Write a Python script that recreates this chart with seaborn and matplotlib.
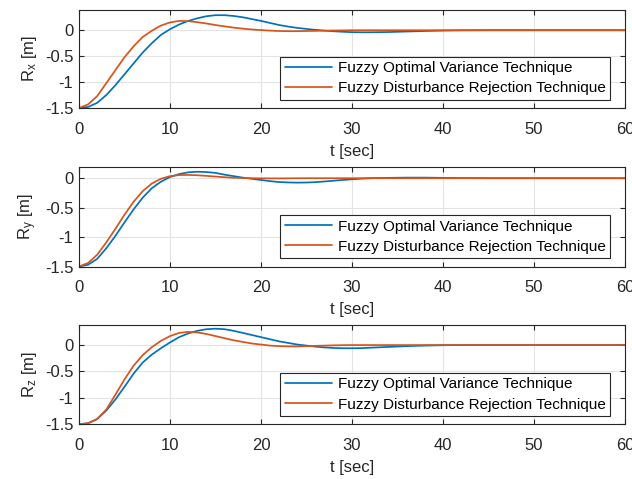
import matplotlib
matplotlib.use("Agg")
import matplotlib.pyplot as plt
import seaborn as sns
import pandas as pd

t = list(range(0, 33)) + [34, 36, 38, 40, 42, 45, 50, 55, 60]

rx_fov = [-1.5, -1.48, -1.40, -1.25, -1.06, -0.85, -0.64, -0.43, -0.25, -0.09,
          0.02, 0.11, 0.18, 0.23, 0.27, 0.29, 0.29, 0.275, 0.25, 0.215,
          0.18, 0.14, 0.10, 0.07, 0.045, 0.025, 0.007, -0.008, -0.02, -0.03,
          -0.037, -0.04, -0.04, -0.035, -0.025, -0.015, -0.007, -0.002, 0, 0, 0, 0]
rx_fdr = [-1.5, -1.43, -1.27, -1.02, -0.77, -0.52, -0.31, -0.13, -0.01, 0.09,
          0.15, 0.18, 0.175, 0.155, 0.13, 0.10, 0.075, 0.05, 0.03, 0.015,
          0.003, -0.008, -0.015, -0.018, -0.018, -0.015, -0.012, -0.008, -0.005, -0.003,
          -0.001, 0, 0, 0, 0, 0, 0, 0, 0, 0, 0, 0]

ry_fov = [-1.5, -1.47, -1.37, -1.19, -0.98, -0.75, -0.53, -0.33, -0.17, -0.06,
          0.02, 0.07, 0.10, 0.11, 0.105, 0.09, 0.06, 0.035, 0.01, -0.01,
          -0.03, -0.05, -0.065, -0.072, -0.075, -0.073, -0.067, -0.055, -0.042, -0.03,
          -0.018, -0.008, 0.0, 0.006, 0.01, 0.01, 0.006, 0.002, 0, 0, 0, 0]
ry_fdr = [-1.5, -1.44, -1.30, -1.09, -0.86, -0.62, -0.40, -0.22, -0.09, -0.01,
          0.035, 0.053, 0.056, 0.05, 0.04, 0.028, 0.017, 0.008, 0.002, 0,
          -0.002, -0.003, -0.003, -0.002, -0.001, 0, 0, 0, 0, 0,
          0, 0, 0, 0, 0, 0, 0, 0, 0, 0, 0, 0]

rz_fov = [-1.5, -1.48, -1.40, -1.24, -1.03, -0.79, -0.54, -0.33, -0.18, -0.06,
          0.05, 0.15, 0.22, 0.27, 0.30, 0.31, 0.30, 0.27, 0.23, 0.19,
          0.15, 0.11, 0.07, 0.04, 0.01, -0.01, -0.03, -0.045, -0.055, -0.06,
          -0.06, -0.058, -0.05, -0.035, -0.02, -0.01, -0.003, 0, 0, 0, 0, 0]
rz_fdr = [-1.5, -1.48, -1.40, -1.22, -0.94, -0.65, -0.39, -0.19, -0.04, 0.08,
          0.17, 0.23, 0.25, 0.24, 0.21, 0.17, 0.13, 0.09, 0.06, 0.03,
          0.01, -0.01, -0.02, -0.025, -0.025, -0.02, -0.015, -0.01, -0.005, -0.002,
          0, 0, 0, 0, 0, 0, 0, 0, 0, 0, 0, 0]

methods = ["Fuzzy Optimal Variance Technique", "Fuzzy Disturbance Rejection Technique"]
ylabels = [r"R$_{\mathrm{x}}$ [m]", r"R$_{\mathrm{y}}$ [m]", r"R$_{\mathrm{z}}$ [m]"]
xticks = [0, 10, 20, 30, 40, 50, 60]
yticks = [-1.5, -1, -0.5, 0]
ytick_labels = ["-1.5", "-1", "-0.5", "0"]
ylims = [(-1.5, 0.39), (-1.5, 0.19), (-1.5, 0.38)]
series = [(rx_fov, rx_fdr), (ry_fov, ry_fdr), (rz_fov, rz_fdr)]

sns.set_theme(style="whitegrid")
plt.rcParams["font.family"] = ["Liberation Sans", "DejaVu Sans"]
plt.rcParams["mathtext.fontset"] = "custom"
plt.rcParams["mathtext.rm"] = "Liberation Sans"
plt.rcParams["mathtext.it"] = "Liberation Sans:italic"

text_c = "#262626"
palette = {methods[0]: "#0072BD", methods[1]: "#D95319"}

fig = plt.figure(figsize=(6.32, 4.79), dpi=100)
rects = [(0.125, 0.7745, 0.864, 0.2046),
         (0.125, 0.4436, 0.864, 0.2077),
         (0.125, 0.1142, 0.864, 0.2073)]

for i, (rect, (a, b)) in enumerate(zip(rects, series)):
    ax = fig.add_axes(rect)
    df = pd.DataFrame({
        "t": t + t,
        "v": a + b,
        "method": [methods[0]] * len(t) + [methods[1]] * len(t),
    })
    sns.lineplot(data=df, x="t", y="v", hue="method", hue_order=methods,
                 palette=palette, linewidth=1.25, ax=ax, legend=True)
    ax.set_facecolor("white")
    ax.set_xlim(0, 60)
    ax.set_ylim(*ylims[i])
    ax.set_xticks(xticks)
    ax.set_xticklabels([str(x) for x in xticks])
    ax.set_yticks(yticks)
    ax.set_yticklabels(ytick_labels)
    ax.grid(True, color="#e3e3e3", linewidth=0.8)
    for s in ax.spines.values():
        s.set_color(text_c)
        s.set_linewidth(0.8)
        s.set_visible(True)
    ax.tick_params(direction="in", length=3.5, width=0.8, colors=text_c,
                   labelsize=12, top=True, right=True, bottom=True, left=True)
    ax.tick_params(axis="x", pad=10)
    ax.tick_params(axis="y", pad=4)
    ax.set_xlabel("t [sec]", fontsize=12, color=text_c, labelpad=5)
    ax.set_ylabel(ylabels[i], fontsize=12, color=text_c, labelpad=4)
    handles, labels = ax.get_legend_handles_labels()
    leg = ax.legend(handles, labels, loc="lower right",
                    bbox_to_anchor=(0.9725, 0.082), borderaxespad=0,
                    frameon=True, fancybox=False, framealpha=1,
                    edgecolor=text_c, fontsize=11, handlelength=3.1,
                    handletextpad=0.35, borderpad=0.3, labelspacing=0.4)
    leg.get_frame().set_linewidth(0.8)
    for txt in leg.get_texts():
        txt.set_color("black")

fig.savefig("out.png", dpi=100)
